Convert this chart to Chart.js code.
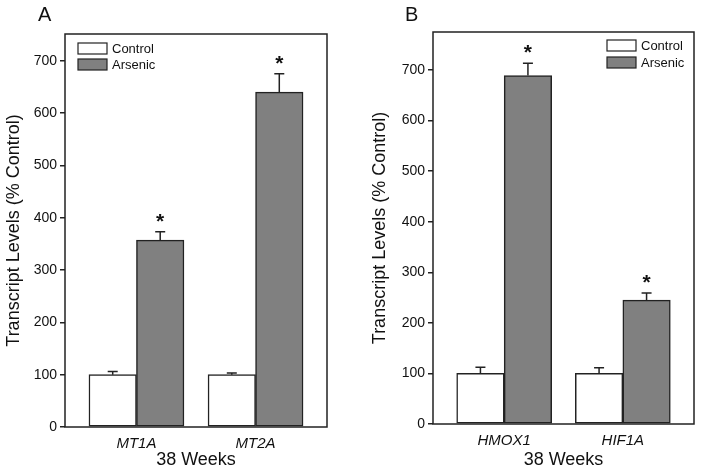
<!DOCTYPE html>
<html>
<head>
<meta charset="utf-8">
<script src="https://cdn.jsdelivr.net/npm/chart.js@4.4.0/dist/chart.umd.min.js"></script>
<style>
  body { margin: 0; background: #fff; }
  .panel { position: absolute; top: 0; height: 474px; }
</style>
</head>
<body>
<div class="panel" style="left:0;width:350px"><canvas id="chartA"></canvas></div>
<div class="panel" style="left:350px;width:351px"><canvas id="chartB"></canvas></div>
<script>
// data (38 weeks, % control)
const genesA = ['MT1A', 'MT2A'];
const controlA = [100, 100];
const controlErrA = [6, 3];
const arsenicA = [357, 640];
const arsenicErrA = [16, 35];
const starsA = [true, true];

const genesB = ['HMOX1', 'HIF1A'];
const controlB = [100, 100];
const controlErrB = [12, 11];
const arsenicB = [689, 245];
const arsenicErrB = [24, 14];
const starsB = [true, true];

const yTicks = [0, 100, 200, 300, 400, 500, 600, 700];

const FONT = 'Arial, "Liberation Sans", sans-serif';
const INK = '#222';

// error bars (upper only) + asterisks for the arsenic group
const errorBars = {
  id: 'errorBars',
  afterDatasetsDraw(chart, args, opts) {
    const ctx = chart.ctx;
    const y = chart.scales.y;
    ctx.save();
    ctx.strokeStyle = INK;
    ctx.lineWidth = 1.5;
    chart.data.datasets.forEach((ds, di) => {
      const meta = chart.getDatasetMeta(di);
      meta.data.forEach((bar, i) => {
        const top = ds.data[i].y + ds.errors[i];
        const yc = y.getPixelForValue(top);
        ctx.beginPath();
        ctx.moveTo(bar.x, bar.y);
        ctx.lineTo(bar.x, yc);
        ctx.moveTo(bar.x - 5, yc);
        ctx.lineTo(bar.x + 5, yc);
        ctx.stroke();
        if (ds.stars && ds.stars[i]) {
          ctx.fillStyle = '#111';
          ctx.font = 'bold 21px ' + FONT;
          ctx.textAlign = 'center';
          ctx.textBaseline = 'alphabetic';
          ctx.fillText('*', bar.x, yc - 4);
        }
      });
    });
    ctx.restore();
  }
};

// box around the plot, panel letter and the inset legend
const frame = {
  id: 'frame',
  afterDraw(chart, args, opts) {
    const ctx = chart.ctx;
    const a = chart.chartArea;
    ctx.save();
    ctx.strokeStyle = INK;
    ctx.lineWidth = 1.5;
    ctx.strokeRect(a.left, a.top, a.right - a.left, a.bottom - a.top);

    ctx.fillStyle = '#111';
    ctx.font = '20px ' + FONT;
    ctx.textAlign = 'left';
    ctx.textBaseline = 'alphabetic';
    ctx.fillText(opts.letter, opts.letterX, 21);

    ctx.font = '13px ' + FONT;
    ctx.textBaseline = 'middle';
    chart.data.datasets.forEach((ds, i) => {
      const by = opts.legendY + i * opts.legendGap;
      ctx.fillStyle = ds.backgroundColor;
      ctx.fillRect(opts.legendX, by, 29, 11);
      ctx.lineWidth = 1.2;
      ctx.strokeRect(opts.legendX, by, 29, 11);
      ctx.fillStyle = '#111';
      ctx.fillText(ds.label, opts.legendX + 34, by + 6);
    });
    ctx.restore();
  }
};

function makePanel(id, genes, ctrl, ctrlErr, ars, arsErr, stars, yMax, pad, yWidth, xHeight, titlePad, frameOpts) {
  return new Chart(document.getElementById(id), {
    type: 'bar',
    data: {
      datasets: [{
        label: 'Control',
        data: ctrl.map((v, i) => ({ x: i + 1, y: v })),
        errors: ctrlErr,
        backgroundColor: '#ffffff',
        borderColor: INK,
        borderWidth: 1.5,
        borderSkipped: false,
        barThickness: 47.5
      }, {
        label: 'Arsenic',
        data: ars.map((v, i) => ({ x: i + 1, y: v })),
        errors: arsErr,
        stars: stars,
        backgroundColor: '#808080',
        borderColor: INK,
        borderWidth: 1.5,
        borderSkipped: false,
        barThickness: 47.5
      }]
    },
    options: {
      responsive: true,
      maintainAspectRatio: false,
      animation: false,
      events: [],
      layout: { padding: pad },
      scales: {
        x: {
          type: 'linear',
          offset: false,
          min: 0.4,
          max: 2.6,
          afterBuildTicks: s => { s.ticks = genes.map((g, i) => ({ value: i + 1 })); },
          afterFit: s => { s.height = xHeight; },
          grid: { display: false, drawTicks: false },
          border: { display: false },
          ticks: {
            padding: 8,
            color: '#111',
            font: { family: FONT, size: 15, style: 'italic' },
            callback: v => genes[v - 1]
          },
          title: {
            display: true,
            text: '38 Weeks',
            color: '#111',
            font: { family: FONT, size: 18 },
            padding: { top: 0, bottom: 3 }
          }
        },
        y: {
          min: 0,
          max: yMax,
          afterBuildTicks: s => { s.ticks = yTicks.map(v => ({ value: v })); },
          afterFit: s => { s.width = yWidth; },
          grid: { drawOnChartArea: false, drawTicks: true, tickLength: 5, color: INK, lineWidth: 1.5 },
          border: { display: false },
          ticks: { padding: 3, color: '#111', font: { family: FONT, size: 14 } },
          title: {
            display: true,
            text: 'Transcript Levels (% Control)',
            color: '#111',
            font: { family: FONT, size: 18 },
            padding: { top: titlePad, bottom: 0 }
          }
        }
      },
      plugins: {
        legend: { display: false },
        tooltip: { enabled: false },
        frame: frameOpts
      }
    },
    plugins: [errorBars, frame]
  });
}

makePanel('chartA', genesA, controlA, controlErrA, arsenicA, arsenicErrA, starsA, 751,
  { left: 0, top: 34, right: 23, bottom: 0 }, 65, 47, 3,
  { letter: 'A', letterX: 38, legendX: 78, legendY: 43, legendGap: 16 });

makePanel('chartB', genesB, controlB, controlErrB, arsenicB, arsenicErrB, starsB, 775,
  { left: 0, top: 32, right: 7, bottom: 0 }, 83, 50, 19,
  { letter: 'B', letterX: 55, legendX: 257, legendY: 40, legendGap: 17 });
</script>
</body>
</html>
